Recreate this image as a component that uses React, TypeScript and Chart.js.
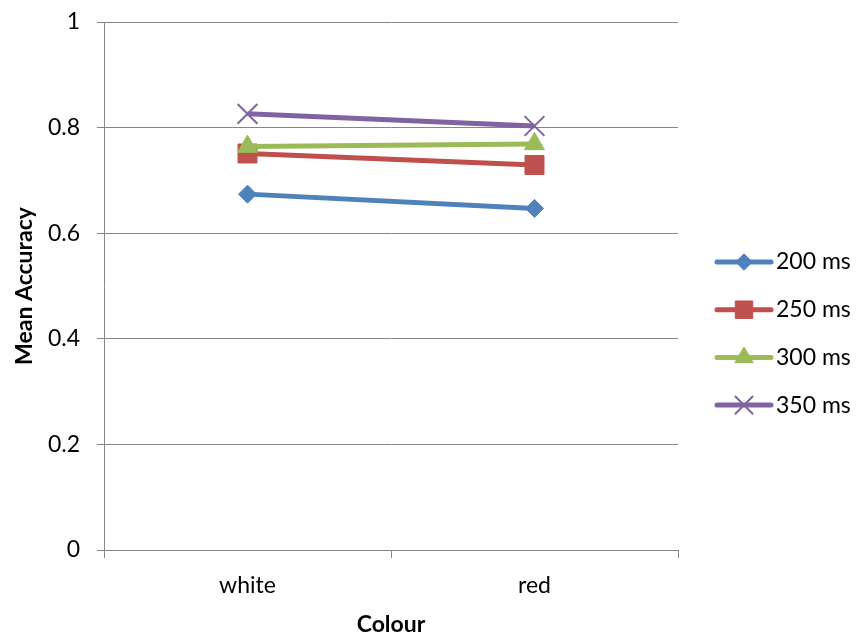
import React, { useEffect, useRef } from 'react';
import { Chart, registerables } from 'chart.js';
import { drawPoint } from 'chart.js/helpers';

Chart.register(...registerables);

// ---- data ----
const categories = ['white', 'red'];
const seriesNames = ['200 ms', '250 ms', '300 ms', '350 ms'];
const acc200 = [0.674, 0.647];
const acc250 = [0.751, 0.729];
const acc300 = [0.764, 0.769];
const acc350 = [0.826, 0.803];
const yTickValues = [0, 0.2, 0.4, 0.6, 0.8, 1];
const yTickLabels = ['0', '0.2', '0.4', '0.6', '0.8', '1'];
const xTitle = 'Colour';
const yTitle = 'Mean Accuracy';

// ---- styles ----
const FONT = 'Lato, "Open Sans", sans-serif';
const FONT_SIZE = 23;
const GRID = '#868686';
const colors = ['#4F81BD', '#C0504D', '#9BBB59', '#8064A2'];
const markers = ['rectRot', 'rect', 'triangle', 'crossRot'];
const markerRadius = [9, 13.4, 11.5, 14];
const markerBorder = [1, 1, 1, 2];
const LINE_W = 5;

const legendPlugin = {
  id: 'excelLegend',
  afterDraw(chart: any) {
    const ctx = chart.ctx as CanvasRenderingContext2D;
    const ca = chart.chartArea;
    const x0 = ca.right + 39;
    const x1 = ca.right + 93;
    const xm = (x0 + x1) / 2;
    const tx = ca.right + 98;
    const gap = 47.7;
    const startY = ca.top + 240;
    chart.data.datasets.forEach((ds: any, i: number) => {
      const y = startY + i * gap;
      ctx.save();
      ctx.strokeStyle = colors[i];
      ctx.lineWidth = LINE_W;
      ctx.lineCap = 'round';
      ctx.beginPath();
      ctx.moveTo(x0, y);
      ctx.lineTo(x1, y);
      ctx.stroke();
      ctx.fillStyle = colors[i];
      ctx.strokeStyle = colors[i];
      ctx.lineWidth = markerBorder[i];
      ctx.lineCap = 'butt';
      drawPoint(ctx, { pointStyle: markers[i] as any, radius: markerRadius[i] * 0.92, borderWidth: markerBorder[i], rotation: 0 } as any, xm, y);
      ctx.fillStyle = '#000';
      ctx.font = `${FONT_SIZE}px ${FONT}`;
      ctx.textBaseline = 'middle';
      ctx.textAlign = 'left';
      ctx.fillText(ds.label, tx, y);
      ctx.restore();
    });
  },
};

export default function App() {
  const ref = useRef<HTMLCanvasElement | null>(null);

  useEffect(() => {
    if (!ref.current) return;
    const series = [acc200, acc250, acc300, acc350];
    const chart = new Chart(ref.current, {
      type: 'line',
      data: {
        labels: categories,
        datasets: series.map((vals, i) => ({
          label: seriesNames[i],
          data: vals,
          borderColor: colors[i],
          backgroundColor: colors[i],
          pointBackgroundColor: colors[i],
          pointBorderColor: colors[i],
          borderWidth: LINE_W,
          pointStyle: markers[i] as any,
          pointRadius: markerRadius[i],
          pointHoverRadius: markerRadius[i],
          pointBorderWidth: markerBorder[i],
          tension: 0,
          fill: false,
          order: series.length - i,
        })),
      },
      options: {
        animation: false,
        responsive: false,
        devicePixelRatio: 1,
        layout: { padding: { left: 0, top: 22, right: 178, bottom: 0 } },
        plugins: {
          legend: { display: false },
          tooltip: { enabled: false },
        },
        scales: {
          x: {
            type: 'category',
            offset: true,
            grid: { offset: true, drawOnChartArea: false, drawTicks: true, tickLength: 8, color: GRID, lineWidth: 1 },
            border: { display: true, color: GRID, width: 1 },
            ticks: { color: '#000', font: { family: FONT, size: FONT_SIZE }, padding: 14, maxRotation: 0 },
            title: {
              display: true,
              text: xTitle,
              color: '#000',
              font: { family: FONT, size: FONT_SIZE, weight: 'bold' },
              padding: { top: 0, bottom: -2 },
            },
            afterFit(scale: any) {
              scale.height = 86;
              scale.paddingLeft = 0;
              scale.paddingRight = 0;
            },
          },
          y: {
            min: 0,
            max: 1,
            afterBuildTicks(scale: any) {
              scale.ticks = yTickValues.map((v) => ({ value: v }));
            },
            grid: { color: GRID, tickLength: 7, lineWidth: 1 },
            border: { display: true, color: GRID, width: 1 },
            ticks: {
              color: '#000',
              font: { family: FONT, size: FONT_SIZE },
              padding: 17,
              callback: (v: any) => {
                const k = yTickValues.findIndex((t) => Math.abs(t - Number(v)) < 1e-9);
                return k >= 0 ? yTickLabels[k] : String(v);
              },
            },
            title: {
              display: true,
              text: yTitle,
              color: '#000',
              font: { family: FONT, size: FONT_SIZE, weight: 'bold' },
              padding: { top: 11, bottom: 0 },
            },
            afterFit(scale: any) {
              scale.width = 104;
              scale.paddingTop = 0;
              scale.paddingBottom = 0;
            },
          },
        },
      },
      plugins: [legendPlugin],
    });
    return () => chart.destroy();
  }, []);

  return (
    <div style={{ position: 'fixed', left: 0, top: 0, width: 856, height: 636, background: '#fff' }}>
      <canvas ref={ref} width={856} height={636} style={{ display: 'block', width: 856, height: 636 }} />
    </div>
  );
}
